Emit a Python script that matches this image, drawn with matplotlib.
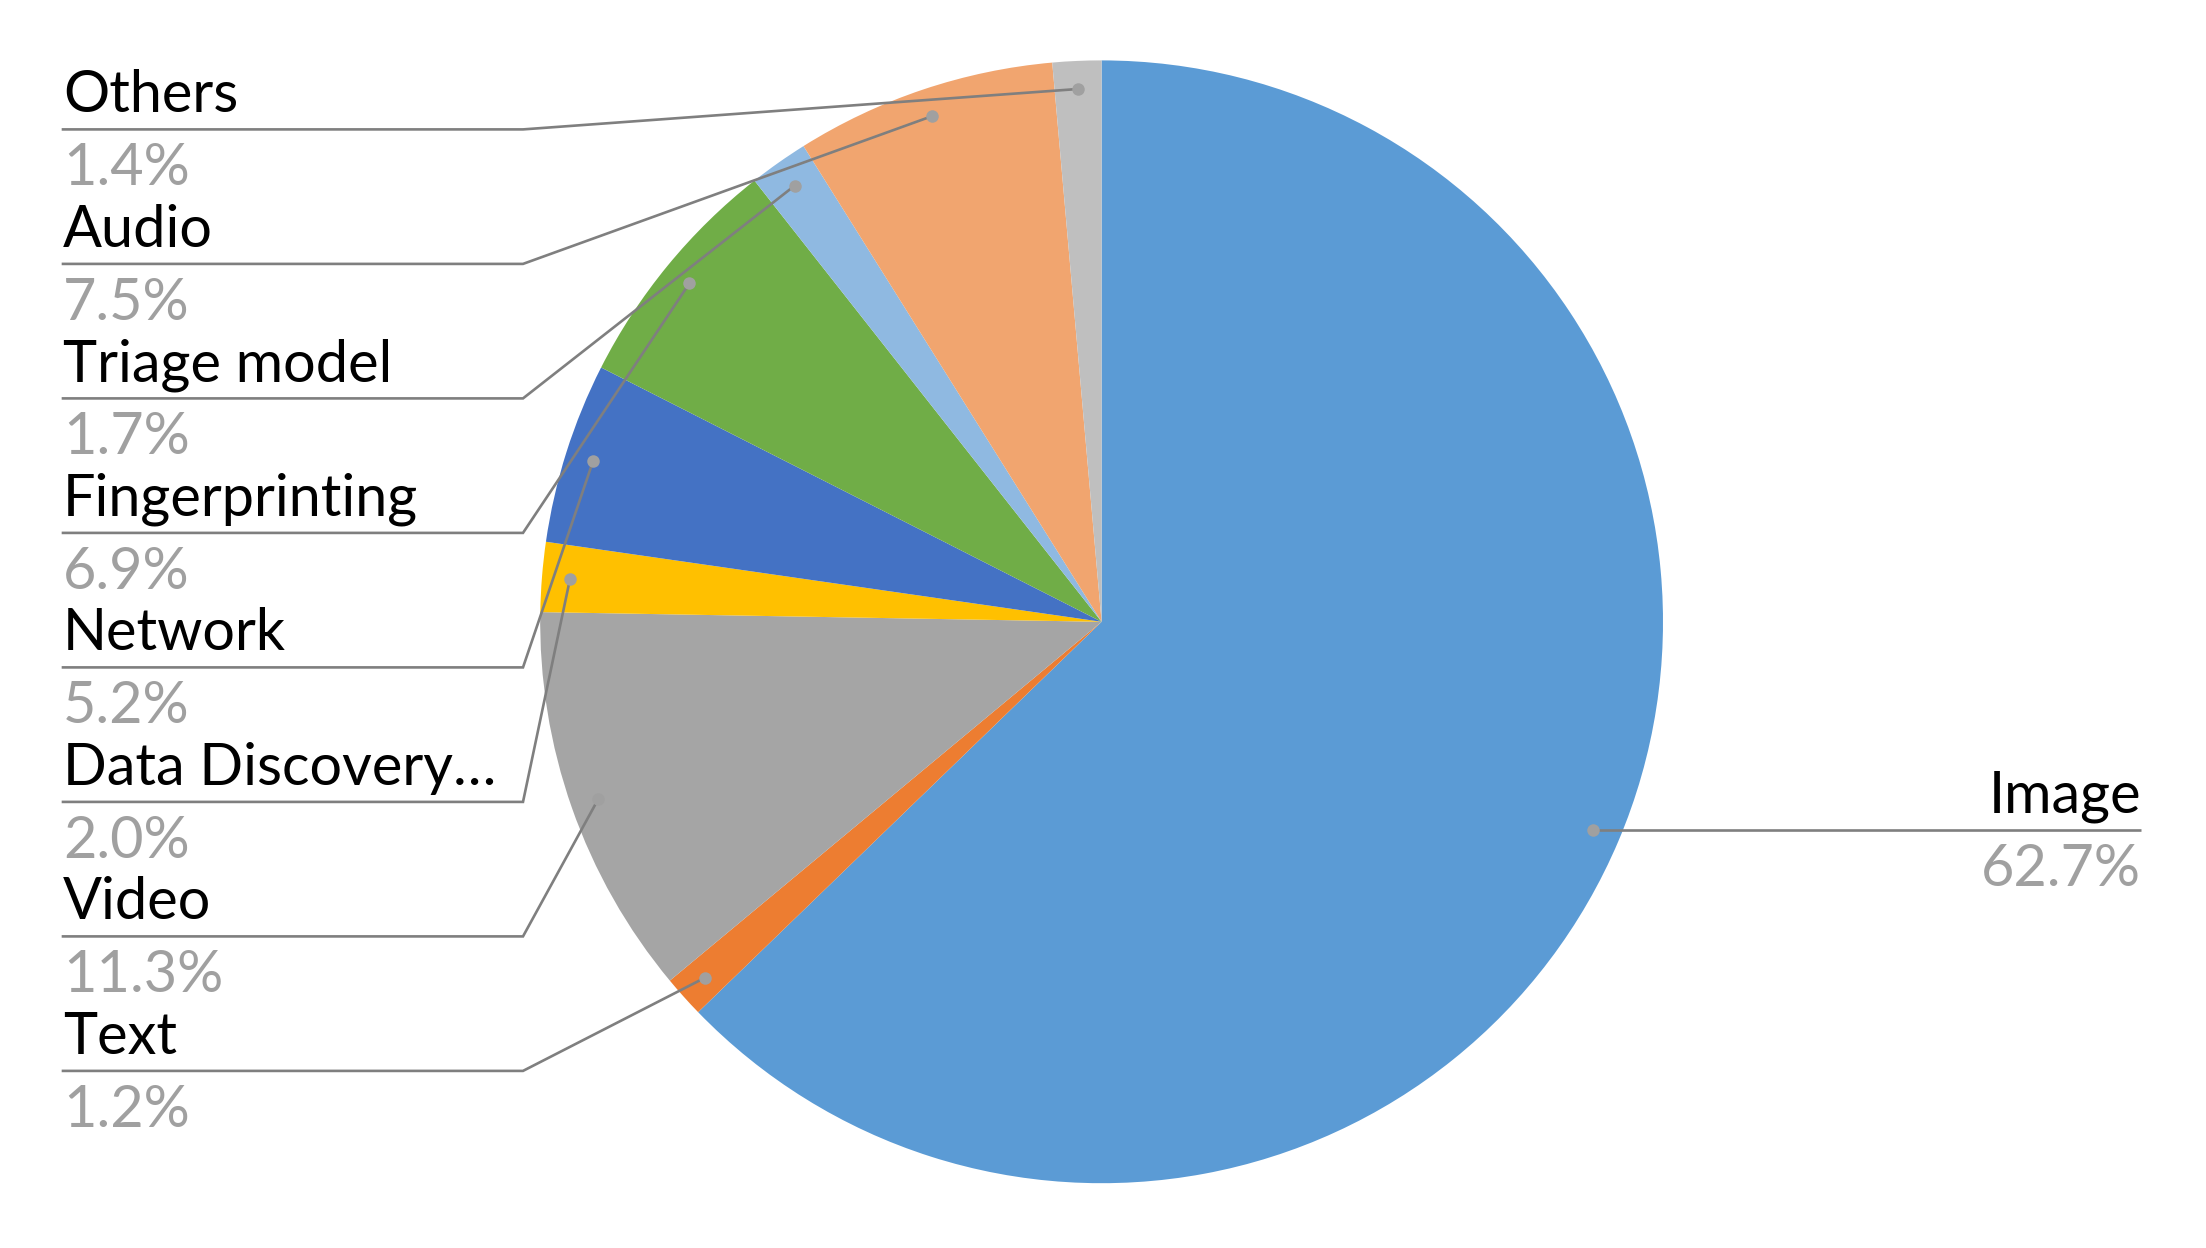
import numpy as np
import matplotlib
matplotlib.use("Agg")
import matplotlib.pyplot as plt

categories = ["Image", "Text", "Video", "Data Discovery\u2026", "Network",
              "Fingerprinting", "Triage model", "Audio", "Others"]
shares = [62.7, 1.2, 11.3, 2.0, 5.2, 6.9, 1.7, 7.5, 1.4]
colors = ["#5B9BD5", "#ED7D31", "#A5A5A5", "#FFC000", "#4472C4",
          "#70AD47", "#8FB9E1", "#F1A56F", "#BFBFBF"]

W, H = 2206, 1248
fig = plt.figure(figsize=(W / 100, H / 100), dpi=100)
ax = fig.add_axes([0, 0, 1, 1])

cx, cy, R = 1101.6, H - 621.8, 561.4
wedges, _ = ax.pie(shares, colors=colors, startangle=90, counterclock=False,
                   center=(cx, cy), radius=R, normalize=True)
ax.set_xlim(0, W)
ax.set_ylim(0, H)
ax.set_aspect("equal")
ax.axis("off")

font = "Lato"
fs = 41.5
line_col = "#7F7F7F"
dot_col = "#A0A0A0"
pct_col = "#A0A0A0"

def dot_pos(w):
    a = np.deg2rad((w.theta1 + w.theta2) / 2)
    return cx + 0.95 * R * np.cos(a), cy + 0.95 * R * np.sin(a)

# big slice, label on the right
x0, y0 = dot_pos(wedges[0])
ax.plot([x0, 2141], [y0, y0], color=line_col, lw=1.9, solid_capstyle="butt")
ax.plot(x0, y0, "o", color=dot_col, ms=9, mec="none")
ax.text(2141, y0 + 17, categories[0], ha="right", va="baseline",
        fontsize=fs, family=font, color="black")
ax.text(2141, y0 - 56, f"{shares[0]:.1f}%", ha="right", va="baseline",
        fontsize=fs, family=font, color=pct_col)

# the rest stacked on the left, top to bottom
for row, i in enumerate(range(len(shares) - 1, 0, -1)):
    yl = H - (129.4 + row * 134.5)
    xd, yd = dot_pos(wedges[i])
    ax.plot([xd, 523, 63], [yd, yl, yl], color=line_col, lw=1.9,
            solid_joinstyle="miter")
    ax.plot(xd, yd, "o", color=dot_col, ms=9, mec="none")
    ax.text(63, yl + 17, categories[i], ha="left", va="baseline",
            fontsize=fs, family=font, color="black")
    ax.text(63, yl - 56, f"{shares[i]:.1f}%", ha="left", va="baseline",
            fontsize=fs, family=font, color=pct_col)

fig.savefig("out.png", dpi=100, facecolor="white")
